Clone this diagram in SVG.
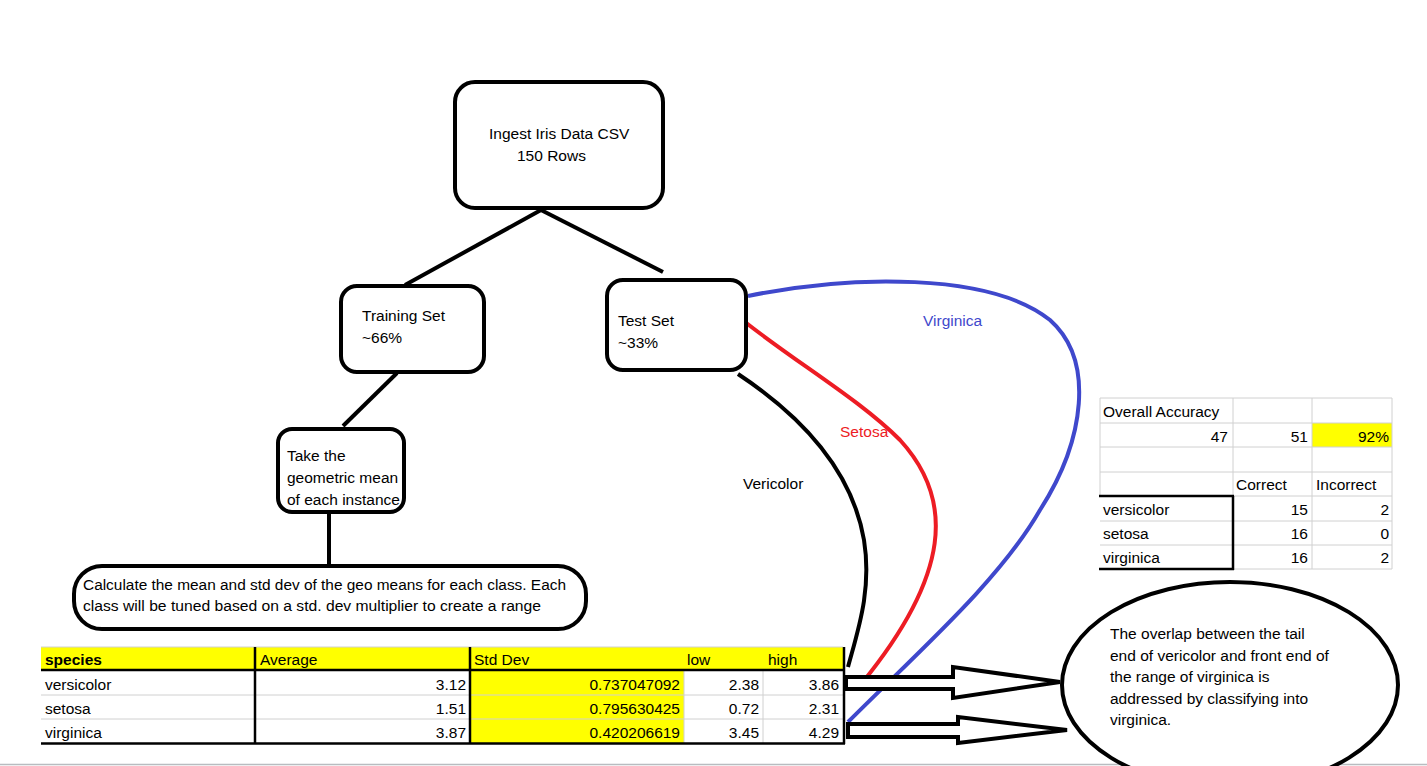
<svg xmlns="http://www.w3.org/2000/svg" width="1427" height="766" viewBox="0 0 1427 766">
<defs>
<style>
text{font-family:"Liberation Sans",Arial,sans-serif;font-size:15.5px;fill:#000}
.box{fill:#fff;stroke:#000;stroke-width:4}
.ln{stroke:#000;stroke-width:4;fill:none}
.grid{stroke:#d0d0d0;stroke-width:1}
.thick{stroke:#000;stroke-width:2.5}
.r{text-anchor:end}
.yel{fill:#ffff00}
</style>
<clipPath id="clipTake"><rect x="280" y="431" width="122" height="79"/></clipPath>
</defs>
<rect x="0" y="0" width="1427" height="766" fill="#fff"/>
<line x1="0" y1="764.5" x2="1427" y2="764.5" stroke="#b8bcc0" stroke-width="1.5"/>

<g id="connectors">
<line class="ln" x1="541" y1="210" x2="405" y2="285"/>
<line class="ln" x1="541" y1="210" x2="663" y2="272"/>
<line class="ln" x1="397" y1="373" x2="343" y2="426"/>
<line class="ln" x1="329" y1="513" x2="329" y2="568"/>
<path d="M738,374 C800,415 852,470 864,540 C872,590 858,630 848,667" stroke="#000" stroke-width="4" fill="none"/>
<path d="M745,322 C800,365 860,400 900,440 C955,500 950,575 862,683" stroke="#ed1c24" stroke-width="4" fill="none"/>
<path d="M748,296 C850,275 990,272 1050,320 C1095,360 1085,440 1040,510 C1000,580 920,650 848,722" stroke="#3f48cc" stroke-width="4" fill="none"/>
<polygon class="box" points="846,677 953,677 953,667 1060,682 953,698 953,689 846,689"/>
<polygon class="box" points="848,724 958,724 958,717 1067,730 958,743 958,737 848,737"/>
<text x="923" y="326" style="fill:#3f48cc">Virginica</text>
<text x="840" y="437" style="fill:#ed1c24">Setosa</text>
<text x="743" y="489">Vericolor</text>
</g>

<g id="ingest">
<rect class="box" x="455" y="82" width="208" height="126" rx="20"/>
<text x="489" y="139">Ingest Iris Data CSV</text>
<text x="517" y="161">150 Rows</text>
</g>

<g id="training">
<rect class="box" x="341" y="286" width="143" height="86" rx="16"/>
<text x="362" y="321">Training Set</text>
<text x="362" y="343">~66%</text>
</g>

<g id="test">
<rect class="box" x="607" y="280" width="139" height="90" rx="16"/>
<text x="618" y="326">Test Set</text>
<text x="618" y="348">~33%</text>
</g>

<g id="geomean">
<rect class="box" x="278" y="429" width="126" height="83" rx="14"/>
<g clip-path="url(#clipTake)">
<text x="287" y="461">Take the</text>
<text x="287" y="483">geometric mean</text>
<text x="287" y="505">of each instance</text>
</g>
</g>

<g id="calculate">
<rect class="box" x="74" y="566" width="512" height="63" rx="28"/>
<text x="83" y="590" textLength="483" lengthAdjust="spacingAndGlyphs">Calculate the mean and std dev of the geo means for each class.  Each</text>
<text x="83" y="611" textLength="458" lengthAdjust="spacingAndGlyphs">class will be tuned based on a std. dev multiplier to create a range</text>
</g>

<g id="stats-table">
<rect class="yel" x="41" y="647" width="802" height="23"/>
<rect class="yel" x="470" y="670" width="214" height="73"/>
<line class="grid" x1="41" y1="647" x2="843" y2="647"/>
<line class="grid" x1="41" y1="695" x2="843" y2="695"/>
<line class="grid" x1="41" y1="719" x2="843" y2="719"/>
<line class="grid" x1="684" y1="670" x2="684" y2="743"/>
<line class="grid" x1="763" y1="670" x2="763" y2="743"/>
<line class="thick" x1="41" y1="670" x2="845" y2="670"/>
<line class="thick" x1="41" y1="743.5" x2="845" y2="743.5"/>
<line class="thick" x1="255" y1="647" x2="255" y2="744"/>
<line class="thick" x1="470" y1="647" x2="470" y2="744"/>
<line class="thick" x1="844" y1="647" x2="844" y2="744"/>
<text x="45" y="665" font-weight="bold">species</text>
<text x="260" y="665">Average</text>
<text x="474" y="665">Std Dev</text>
<text x="687" y="665">low</text>
<text x="768" y="665">high</text>
<text x="45" y="690">versicolor</text>
<text x="45" y="714">setosa</text>
<text x="45" y="738">virginica</text>
<text class="r" x="466" y="690">3.12</text>
<text class="r" x="466" y="714">1.51</text>
<text class="r" x="466" y="738">3.87</text>
<text class="r" x="680" y="690">0.737047092</text>
<text class="r" x="680" y="714">0.795630425</text>
<text class="r" x="680" y="738">0.420206619</text>
<text class="r" x="759" y="690">2.38</text>
<text class="r" x="759" y="714">0.72</text>
<text class="r" x="759" y="738">3.45</text>
<text class="r" x="839" y="690">3.86</text>
<text class="r" x="839" y="714">2.31</text>
<text class="r" x="839" y="738">4.29</text>
</g>

<g id="accuracy-table">
<rect class="yel" x="1312" y="423" width="80" height="24"/>
<line class="grid" x1="1100" y1="398" x2="1392" y2="398"/>
<line class="grid" x1="1100" y1="423" x2="1392" y2="423"/>
<line class="grid" x1="1100" y1="447" x2="1392" y2="447"/>
<line class="grid" x1="1100" y1="472" x2="1392" y2="472"/>
<line class="grid" x1="1233" y1="496" x2="1392" y2="496"/>
<line class="grid" x1="1100" y1="521" x2="1392" y2="521"/>
<line class="grid" x1="1100" y1="545" x2="1392" y2="545"/>
<line class="grid" x1="1233" y1="569" x2="1392" y2="569"/>
<line class="grid" x1="1100" y1="398" x2="1100" y2="496"/>
<line class="grid" x1="1233" y1="398" x2="1233" y2="496"/>
<line class="grid" x1="1312" y1="398" x2="1312" y2="569"/>
<line class="grid" x1="1392" y1="398" x2="1392" y2="569"/>
<line class="thick" x1="1099" y1="496" x2="1234" y2="496"/>
<line class="thick" x1="1233" y1="496" x2="1233" y2="570"/>
<line class="thick" x1="1099" y1="569" x2="1234" y2="569"/>
<text x="1103" y="417">Overall Accuracy</text>
<text class="r" x="1228" y="442">47</text>
<text class="r" x="1308" y="442">51</text>
<text class="r" x="1389" y="442">92%</text>
<text x="1236" y="490">Correct</text>
<text x="1316" y="490">Incorrect</text>
<text x="1103" y="515">versicolor</text>
<text x="1103" y="539">setosa</text>
<text x="1103" y="563">virginica</text>
<text class="r" x="1308" y="515">15</text>
<text class="r" x="1389" y="515">2</text>
<text class="r" x="1308" y="539">16</text>
<text class="r" x="1389" y="539">0</text>
<text class="r" x="1308" y="563">16</text>
<text class="r" x="1389" y="563">2</text>
</g>

<g id="overlap-note">
<ellipse cx="1230" cy="685" rx="168" ry="103" fill="#fff" stroke="#000" stroke-width="4"/>
<text x="1110" y="639">The overlap between the tail</text>
<text x="1110" y="660.5">end of vericolor and front end of</text>
<text x="1110" y="682">the range of virginica is</text>
<text x="1110" y="703.5">addressed by classifying into</text>
<text x="1110" y="725">virginica.</text>
</g>
</svg>
